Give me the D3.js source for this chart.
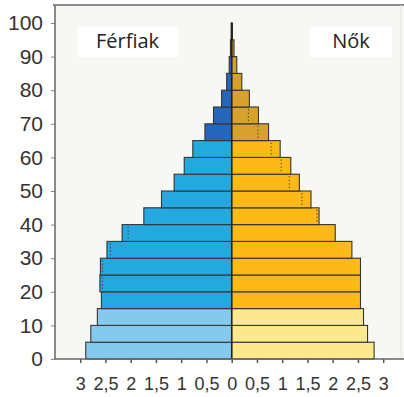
<!DOCTYPE html>
<html>
<head>
<meta charset="utf-8">
<script src="https://cdn.jsdelivr.net/npm/d3@7"></script>
<style>
  body { margin: 0; background: #fff; }
  .tick text { font-family: "Liberation Sans Narrow", "Liberation Sans", sans-serif; fill: #333; }
</style>
</head>
<body>
<div id="chart"></div>
<script>
// age groups (lower bound of each 5 year band)
var ageStarts = [0, 5, 10, 15, 20, 25, 30, 35, 40, 45, 50, 55, 60, 65, 70, 75, 80, 85, 90, 95];
// percent of population, men (left) and women (right)
var men   = [2.89, 2.79, 2.66, 2.58, 2.61, 2.60, 2.47, 2.17, 1.74, 1.39, 1.14, 0.94, 0.77, 0.53, 0.36, 0.20, 0.10, 0.05, 0.025, 0.01];
var women = [2.82, 2.69, 2.61, 2.55, 2.55, 2.55, 2.38, 2.05, 1.73, 1.57, 1.34, 1.17, 0.96, 0.73, 0.53, 0.35, 0.20, 0.10, 0.045, 0.015];
// dotted comparison marks inside the bars
var menDotted   = [null, null, null, null, 2.56, 2.56, 2.40, 2.05, null, null, null, null, null, null, null, null, null, null, null, null];
var womenDotted = [null, null, null, null, null, null, null, null, 1.69, 1.39, 1.14, 0.98, 0.78, 0.52, 0.33, null, null, null, null, null];
var xTicks = [-3, -2.5, -2, -1.5, -1, -0.5, 0, 0.5, 1, 1.5, 2, 2.5, 3];
var yTicks = [0, 10, 20, 30, 40, 50, 60, 70, 80, 90, 100];
var labelMen = "Férfiak", labelWomen = "Nők";

var W = 404, H = 397;
var plot = {left: 55, top: 5, right: 404, bottom: 359};

var svg = d3.select("#chart").append("svg")
    .attr("width", W)
    .attr("height", H);

var x = d3.scaleLinear().domain([-3, 3]).range([80.2, 383.2]);
var y = d3.scaleLinear().domain([0, 100]).range([359, 23]);

// plot background
svg.append("rect")
    .attr("x", plot.left).attr("y", plot.top)
    .attr("width", plot.right - plot.left).attr("height", plot.bottom - plot.top)
    .attr("fill", "#f7f7f4");

// frame top and faint right side
svg.append("line")
    .attr("x1", plot.left - 2).attr("x2", plot.right)
    .attr("y1", plot.top).attr("y2", plot.top)
    .attr("stroke", "#8a8a8a").attr("stroke-width", 2);
svg.append("line")
    .attr("x1", 401).attr("x2", 401)
    .attr("y1", plot.top).attr("y2", plot.bottom)
    .attr("stroke", "#e2e2e2").attr("stroke-width", 1);

// label boxes
var boxes = [{t: labelMen, x0: 77, x1: 178}, {t: labelWomen, x0: 310, x1: 392}];
boxes.forEach(function(b) {
  svg.append("rect")
      .attr("x", b.x0).attr("y", 27)
      .attr("width", b.x1 - b.x0).attr("height", 30)
      .attr("fill", "#fff");
  svg.append("text")
      .attr("x", (b.x0 + b.x1) / 2).attr("y", 48)
      .attr("text-anchor", "middle")
      .style("font-family", "'Open Sans', 'Noto Sans', sans-serif")
      .style("font-size", "20px")
      .attr("fill", "#222")
      .text(b.t);
});

function colour(age, side) {
  if (age < 15) return side === "m" ? "#86c9ee" : "#fbe98c";
  if (age < 65) return side === "m" ? "#24a8e0" : "#fcb918";
  return side === "m" ? "#2566bd" : "#d7a22b";
}

var rows = ageStarts.map(function(a, i) {
  return {age: a, m: men[i], w: women[i], md: menDotted[i], wd: womenDotted[i]};
});

var g = svg.append("g");

g.selectAll(".bar-m")
    .data(rows)
  .enter().append("rect")
    .attr("class", "bar-m")
    .attr("x", function(d) { return x(-d.m); })
    .attr("y", function(d) { return y(d.age + 5); })
    .attr("width", function(d) { return x(0) - x(-d.m); })
    .attr("height", function(d) { return y(d.age) - y(d.age + 5); })
    .attr("fill", function(d) { return colour(d.age, "m"); })
    .attr("stroke", "#353535")
    .attr("stroke-width", 1.1);

g.selectAll(".bar-w")
    .data(rows)
  .enter().append("rect")
    .attr("class", "bar-w")
    .attr("x", x(0))
    .attr("y", function(d) { return y(d.age + 5); })
    .attr("width", function(d) { return x(d.w) - x(0); })
    .attr("height", function(d) { return y(d.age) - y(d.age + 5); })
    .attr("fill", function(d) { return colour(d.age, "w"); })
    .attr("stroke", "#353535")
    .attr("stroke-width", 1.1);

// dotted marks
g.selectAll(".dot-m")
    .data(rows.filter(function(d) { return d.md != null; }))
  .enter().append("line")
    .attr("x1", function(d) { return x(-d.md); })
    .attr("x2", function(d) { return x(-d.md); })
    .attr("y1", function(d) { return y(d.age + 5) + 2; })
    .attr("y2", function(d) { return y(d.age) - 2; })
    .attr("stroke", "#444").attr("stroke-width", 1)
    .attr("stroke-dasharray", "1.5,2");

g.selectAll(".dot-w")
    .data(rows.filter(function(d) { return d.wd != null; }))
  .enter().append("line")
    .attr("x1", function(d) { return x(d.wd); })
    .attr("x2", function(d) { return x(d.wd); })
    .attr("y1", function(d) { return y(d.age + 5) + 2; })
    .attr("y2", function(d) { return y(d.age) - 2; })
    .attr("stroke", "#5a4a20").attr("stroke-width", 1)
    .attr("stroke-dasharray", "1.5,2");

// centre line
svg.append("line")
    .attr("x1", x(0)).attr("x2", x(0))
    .attr("y1", y(100)).attr("y2", y(0))
    .attr("stroke", "#222").attr("stroke-width", 1.5);

// x axis
var xAxis = svg.append("g")
    .attr("transform", "translate(0," + plot.bottom + ")")
    .call(d3.axisBottom(x)
        .tickValues(xTicks)
        .tickSize(4)
        .tickPadding(14)
        .tickFormat(function(d) { return String(Math.abs(d)).replace(".", ","); }));
xAxis.select(".domain").remove();
xAxis.selectAll(".tick line").attr("stroke", "#555").attr("stroke-width", 1.5);
xAxis.selectAll(".tick text").style("font-size", "18px");
svg.append("line")
    .attr("x1", plot.left).attr("x2", plot.right)
    .attr("y1", plot.bottom).attr("y2", plot.bottom)
    .attr("stroke", "#666").attr("stroke-width", 1.5);

// y axis
var yAxis = svg.append("g")
    .attr("transform", "translate(" + plot.left + ",0)")
    .call(d3.axisLeft(y)
        .tickValues(yTicks)
        .tickSize(4)
        .tickPadding(8));
yAxis.select(".domain").remove();
yAxis.selectAll(".tick line").attr("stroke", "#888");
yAxis.selectAll(".tick text").style("font-size", "21px");
svg.append("line")
    .attr("x1", plot.left).attr("x2", plot.left)
    .attr("y1", plot.top).attr("y2", plot.bottom)
    .attr("stroke", "#666").attr("stroke-width", 1.5);
</script>
</body>
</html>
